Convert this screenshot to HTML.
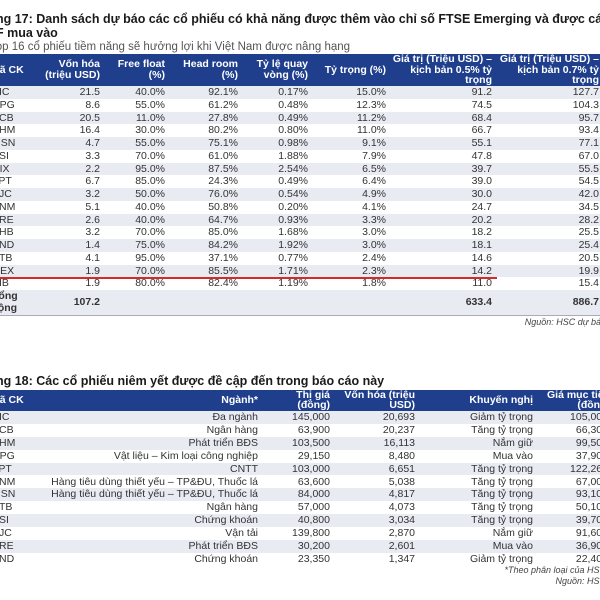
<!DOCTYPE html>
<html><head><meta charset="utf-8">
<style>
html,body{margin:0;padding:0;width:600px;height:600px;overflow:hidden;background:#fff;font-family:"Liberation Sans",Arial,sans-serif;color:#222;}
.a{position:absolute;white-space:nowrap;}
.t{font-weight:bold;font-size:12.5px;color:#1a1a1a;line-height:14px;}
.sub{font-size:11.5px;color:#555;}
.hdr{position:absolute;left:0;width:600px;background:#1f3f8c;}
.h{position:absolute;color:#fff;font-weight:bold;font-size:10.5px;line-height:10.5px;text-align:right;white-space:nowrap;}
.row{position:absolute;left:0;width:600px;}
.c{position:absolute;font-size:10.5px;white-space:nowrap;color:#333;}
.r{text-align:right;}
</style></head><body>
<div class="a t" style="left:-20px;top:12px">Bảng 17: Danh sách dự báo các cổ phiếu có khả năng được thêm vào chỉ số FTSE Emerging và được các quỹ thụ động<br>ETF mua vào</div>
<div class="a sub" style="left:-10px;top:41px">Top 16 cổ phiếu tiềm năng sẽ hưởng lợi khi Việt Nam được nâng hạng</div>
<div class="hdr" style="top:54px;height:32px">
<div class="h" style="left:-9px;top:11px;text-align:left">Mã CK</div>
<div class="h" style="right:500px;top:5px">Vốn hóa<br>(triệu USD)</div>
<div class="h" style="right:435px;top:5px">Free float<br>(%)</div>
<div class="h" style="right:362px;top:5px">Head room<br>(%)</div>
<div class="h" style="right:292px;top:5px">Tỷ lệ quay<br>vòng (%)</div>
<div class="h" style="right:214px;top:11px">Tỷ trọng (%)</div>
<div class="h" style="right:108px;top:0px">Giá trị (Triệu USD) –<br>kịch bản 0.5% tỷ<br>trọng</div>
<div class="h" style="right:1px;top:0px">Giá trị (Triệu USD) –<br>kịch bản 0.7% tỷ<br>trọng</div>
</div>
<div id="t1"></div>
<div class="a" style="left:0;top:277px;width:497px;height:2px;background:#d42a2a"></div>
<div class="a" style="left:0;top:290px;width:600px;height:25px;background:#e9ebf3;border-bottom:1px solid #aab">
<div class="c" style="left:-8px;top:1px;font-weight:bold;line-height:11.5px">Tổng<br>cộng</div>
<div class="c r" style="right:500px;top:6px;font-weight:bold">107.2</div>
<div class="c r" style="right:108px;top:6px;font-weight:bold">633.4</div>
<div class="c r" style="right:1px;top:6px;font-weight:bold">886.7</div>
</div>
<div class="a" style="right:-6px;top:317px;font-size:9px;font-style:italic;color:#444">Nguồn: HSC dự báo</div>

<div class="a t" style="left:-20px;top:374px">Bảng 18: Các cổ phiếu niêm yết được đề cập đến trong báo cáo này</div>
<div class="hdr" style="top:390px;height:21px">
<div class="h" style="left:-9px;top:5px;text-align:left">Mã CK</div>
<div class="h" style="right:342px;top:5px">Ngành*</div>
<div class="h" style="right:270px;top:1px;line-height:9.5px">Thị giá<br>(đồng)</div>
<div class="h" style="right:185px;top:1px;line-height:9.5px">Vốn hóa (triệu<br>USD)</div>
<div class="h" style="right:67px;top:5px">Khuyến nghị</div>
<div class="h" style="right:-10px;top:1px;line-height:9.5px">Giá mục tiêu<br>(đồng)</div>
</div>
<div id="t2"></div>
<div class="a" style="right:-6px;top:565px;font-size:9px;font-style:italic;color:#444;text-align:right;line-height:11px">*Theo phân loại của HSC<br>Nguồn: HSC</div>

<script>
const codes1=["VIC","HPG","VCB","VHM","MSN","SSI","DIX","FPT","VJC","VNM","VRE","SHB","VND","STB","GEX","VIB"];
const caps1=["21.5","8.6","20.5","16.4","4.7","3.3","2.2","6.7","3.2","5.1","2.6","3.2","1.4","4.1","1.9","1.9"];
const ff1=["40.0%","55.0%","11.0%","30.0%","55.0%","70.0%","95.0%","85.0%","50.0%","40.0%","40.0%","70.0%","75.0%","95.0%","70.0%","80.0%"];
const hr1=["92.1%","61.2%","27.8%","80.2%","75.1%","61.0%","87.5%","24.3%","76.0%","50.8%","64.7%","85.0%","84.2%","37.1%","85.5%","82.4%"];
const tv1=["0.17%","0.48%","0.49%","0.80%","0.98%","1.88%","2.54%","0.49%","0.54%","0.20%","0.93%","1.68%","1.92%","0.77%","1.71%","1.19%"];
const wt1=["15.0%","12.3%","11.2%","11.0%","9.1%","7.9%","6.5%","6.4%","4.9%","4.1%","3.3%","3.0%","3.0%","2.4%","2.3%","1.8%"];
const v05=["91.2","74.5","68.4","66.7","55.1","47.8","39.7","39.0","30.0","24.7","20.2","18.2","18.1","14.6","14.2","11.0"];
const v07=["127.7","104.3","95.7","93.4","77.1","67.0","55.5","54.5","42.0","34.5","28.2","25.5","25.4","20.5","19.9","15.4"];
const codes2=["VIC","VCB","VHM","HPG","FPT","VNM","MSN","STB","SSI","VJC","VRE","VND"];
const sector2=["Đa ngành","Ngân hàng","Phát triển BĐS","Vật liệu – Kim loại công nghiệp","CNTT","Hàng tiêu dùng thiết yếu – TP&ĐU, Thuốc lá","Hàng tiêu dùng thiết yếu – TP&ĐU, Thuốc lá","Ngân hàng","Chứng khoán","Vận tải","Phát triển BĐS","Chứng khoán"];
const price2=["145,000","63,900","103,500","29,150","103,000","63,600","84,000","57,000","40,800","139,800","30,200","23,350"];
const cap2=["20,693","20,237","16,113","8,480","6,651","5,038","4,817","4,073","3,034","2,870","2,601","1,347"];
const rec2=["Giảm tỷ trọng","Tăng tỷ trọng","Nắm giữ","Mua vào","Tăng tỷ trọng","Tăng tỷ trọng","Tăng tỷ trọng","Tăng tỷ trọng","Tăng tỷ trọng","Nắm giữ","Mua vào","Giảm tỷ trọng"];
const tgt2=["105,000","66,300","99,500","37,900","122,260","67,000","93,100","50,100","39,700","91,600","36,900","22,400"];

function cell(row,txt,right,left){
  const d=document.createElement('div');
  d.className='c'+(right!=null?' r':'');
  if(right!=null)d.style.right=right+'px';else d.style.left=left+'px';
  d.style.top='0px';d.textContent=txt;
  
  
  row.appendChild(d);
}
const t1=document.getElementById('t1');
const rh1=12.75;
codes1.forEach((c,i)=>{
  const r=document.createElement('div');r.className='row';
  r.style.top=(86+i*rh1)+'px';r.style.height=rh1+'px';
  r.style.background=i%2==0?'#e9ebf3':'#fff';
  
  
  cell(r,c,null,-8);cell(r,caps1[i],500);cell(r,ff1[i],435);cell(r,hr1[i],362);
  cell(r,tv1[i],292);cell(r,wt1[i],214);cell(r,v05[i],108);cell(r,v07[i],1);
  t1.appendChild(r);
});
const t2=document.getElementById('t2');
const rh2=12.9;
codes2.forEach((c,i)=>{
  const r=document.createElement('div');r.className='row';
  r.style.top=(411+i*rh2)+'px';r.style.height=rh2+'px';
  r.style.background=i%2==0?'#e9ebf3':'#fff';
  
  
  cell(r,c,null,-8);cell(r,sector2[i],342);cell(r,price2[i],270);cell(r,cap2[i],185);
  cell(r,rec2[i],67);cell(r,tgt2[i],-8);
  t2.appendChild(r);
});
</script>
</body></html>
